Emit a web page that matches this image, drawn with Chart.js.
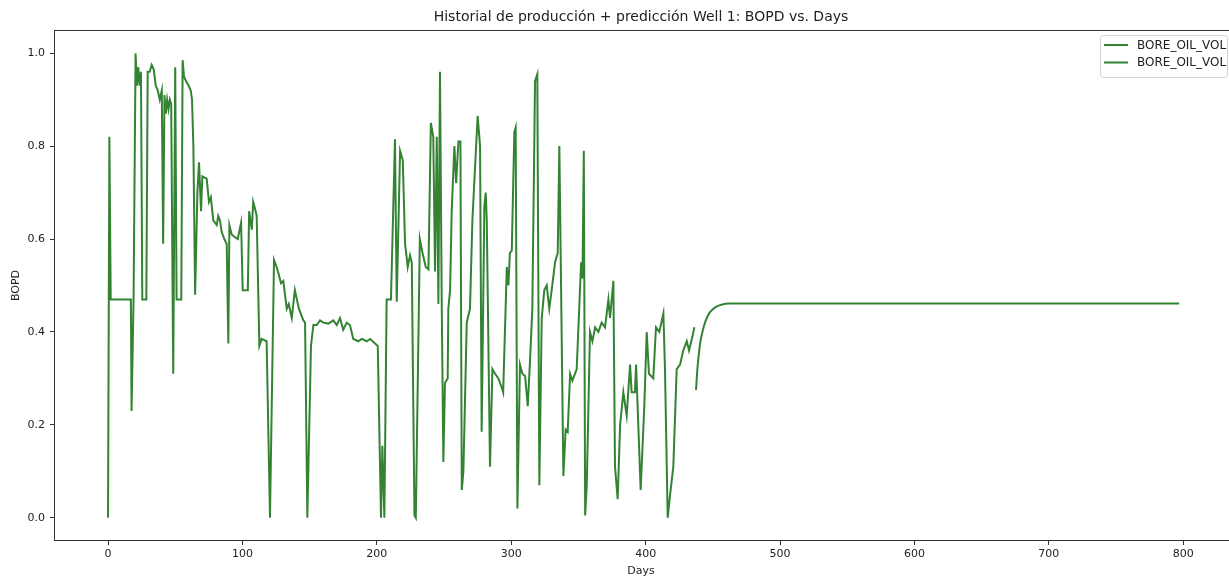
<!DOCTYPE html>
<html>
<head>
<meta charset="utf-8">
<script src="https://cdn.jsdelivr.net/npm/chart.js@4.4.1/dist/chart.umd.min.js"></script>
<style>
  html, body { margin: 0; padding: 0; background: #fff; }
  #chart_ctx { display: block; }
</style>
</head>
<body>
<canvas id="chart_ctx" width="1229" height="578"></canvas>
<script>
// history (days, BOPD)
const histDays = [0, 1, 2, 17, 17.5, 19, 20.5, 21.5, 22.5, 23.5, 24.5, 25.5, 28.5, 29.5, 31, 32.5, 34, 35.5, 37, 38.5,
  40, 41, 42, 43, 44, 45, 46, 47, 48.5, 50, 51, 54.5, 55.5, 56.5, 58, 60, 61.5, 62.5, 63.5, 64.8,
  66.5, 67.7, 69.2, 70.2, 73.4, 75.1, 76.5, 78.3, 80.9, 82, 83.3, 84.6, 86.5, 88.3, 89.5, 90.3, 92, 94, 96.5, 99,
  100.2, 102, 104, 105, 107, 108, 109.4, 110.6, 112.6, 114.3, 118, 120.5, 123.5, 126, 128.7, 130.4, 133, 134.5, 136.7, 139,
  142, 145.3, 146.6, 148.3, 151, 152.8, 155.3, 157.7, 160.2, 164, 167.6, 170.2, 172.6, 175, 177.6, 180, 182.5, 186.2, 188.8, 192.5,
  195, 198.7, 200.7, 203.1, 204.1, 205.6, 207.3, 210.5, 213.5, 214.8, 217.3, 219.3, 221, 223, 224.7, 226, 228, 229, 232, 234,
  236.4, 238.4, 240.2, 242, 243.3, 244.6, 245.8, 247, 248.3, 249.5, 250.7, 252.7, 253.2, 254.5, 255.7, 257.7, 259, 260.7, 262.2, 263.2,
  264.4, 266.9, 269.3, 271.1, 275, 276.8, 278, 280, 281, 281.8, 284.2, 286, 288, 290.4, 293, 294, 296.7, 297.9, 299, 300.4,
  302.3, 303.3, 304.6, 306.5, 308.3, 310.3, 312.3, 314, 315.7, 317.7, 319.4, 320.9, 322.7, 324.6, 326.4, 328.3, 330.1, 332.6, 334.6, 335.8,
  338.8, 340.5, 342, 343.8, 345.5, 348.7, 352, 353, 354, 355, 356.2, 358.6, 360.4, 362.4, 364.8, 367.3, 369.8, 372.3, 373.5, 376,
  377.2, 379.2, 381, 383.4, 385.9, 388.4, 389.6, 392, 392.9, 396.3, 399, 400.8, 402.5, 405.7, 407.7, 410.2, 413.2, 414.4, 416.4, 418.2,
  420.6, 423.1, 425.6, 428, 430.6, 432.3, 434.8, 436.3];
const histBopd = [0.0, 0.82, 0.47, 0.47, 0.23, 0.47, 1.0, 0.93, 0.97, 0.93, 0.96, 0.47, 0.47, 0.96, 0.96, 0.975, 0.965, 0.93, 0.92, 0.90,
  0.92, 0.59, 0.91, 0.87, 0.90, 0.88, 0.90, 0.89, 0.31, 0.97, 0.47, 0.47, 0.985, 0.95, 0.94, 0.93, 0.92, 0.90, 0.80, 0.48,
  0.70, 0.765, 0.66, 0.735, 0.73, 0.68, 0.69, 0.64, 0.63, 0.65, 0.64, 0.615, 0.60, 0.59, 0.375, 0.63, 0.61, 0.605, 0.60, 0.635,
  0.49, 0.49, 0.49, 0.66, 0.62, 0.68, 0.665, 0.65, 0.37, 0.385, 0.38, 0.0, 0.555, 0.535, 0.505, 0.51, 0.45, 0.46, 0.43, 0.49,
  0.45, 0.425, 0.42, 0.0, 0.37, 0.415, 0.415, 0.425, 0.42, 0.418, 0.425, 0.415, 0.43, 0.405, 0.42, 0.415, 0.385, 0.38, 0.385, 0.38,
  0.385, 0.375, 0.37, 0.0, 0.155, 0.0, 0.47, 0.47, 0.815, 0.465, 0.79, 0.77, 0.59, 0.54, 0.565, 0.55, 0.005, 0.0, 0.60, 0.57,
  0.54, 0.535, 0.85, 0.82, 0.53, 0.82, 0.46, 0.96, 0.46, 0.12, 0.29, 0.30, 0.45, 0.49, 0.66, 0.80, 0.72, 0.81, 0.81, 0.06,
  0.10, 0.42, 0.45, 0.64, 0.865, 0.80, 0.185, 0.67, 0.70, 0.64, 0.11, 0.32, 0.31, 0.30, 0.28, 0.27, 0.54, 0.50, 0.57, 0.575,
  0.83, 0.84, 0.02, 0.33, 0.31, 0.305, 0.24, 0.34, 0.45, 0.94, 0.955, 0.07, 0.43, 0.49, 0.50, 0.45, 0.49, 0.55, 0.57, 0.80,
  0.09, 0.19, 0.185, 0.31, 0.295, 0.32, 0.55, 0.515, 0.79, 0.005, 0.07, 0.40, 0.38, 0.41, 0.40, 0.42, 0.41, 0.47, 0.43, 0.51,
  0.11, 0.04, 0.20, 0.27, 0.22, 0.33, 0.27, 0.27, 0.33, 0.06, 0.24, 0.40, 0.31, 0.30, 0.41, 0.40, 0.44, 0.32, 0.0, 0.05,
  0.11, 0.32, 0.33, 0.36, 0.38, 0.36, 0.39, 0.41];

// prediction (days, BOPD)
const predDays = [437.5, 438.5, 439.5, 440.5, 442, 443.5, 445.5, 447.5, 450, 453, 457, 462, 470, 500, 600, 700, 797];
const predBopd = [0.275, 0.32, 0.35, 0.375, 0.397, 0.414, 0.43, 0.441, 0.449, 0.455, 0.459, 0.461, 0.4615, 0.4615, 0.4615, 0.4615, 0.4615];

const xTicks = [0, 100, 200, 300, 400, 500, 600, 700, 800];
const yTicks = [0.0, 0.2, 0.4, 0.6, 0.8, 1.0];

const lineColor = 'rgba(0,100,0,0.8)';
const fontFam = '"DejaVu Sans", sans-serif';

function toPoints(xs, ys) {
    return xs.map((d, i) => ({x: d, y: ys[i]}));
}

// matplotlib style frame + legend box (right spine sits just past the crop)
const framePlugin = {
    id: 'frame',
    afterDraw(chart) {
        const c = chart.ctx, a = chart.chartArea;
        c.save();
        c.strokeStyle = '#333';
        c.lineWidth = 1;
        const l = Math.round(a.left) + 0.5, t = Math.round(a.top) + 0.5, b = Math.round(a.bottom) - 0.5;
        c.strokeRect(l, t, chart.width + 10 - l, b - t);

        // legend
        const bx = 1100.5, by = 35.5, bw = 127, bh = 42;
        c.fillStyle = 'rgba(255,255,255,0.8)';
        c.strokeStyle = '#d0d0d0';
        c.beginPath();
        c.roundRect(bx, by, bw, bh, 3);
        c.fill();
        c.stroke();
        c.font = '12px ' + fontFam;
        c.textBaseline = 'middle';
        chart.data.datasets.forEach((ds, i) => {
            const yy = 45 + i * 17.5;
            c.strokeStyle = ds.borderColor;
            c.lineWidth = 2;
            c.beginPath();
            c.moveTo(1104, yy);
            c.lineTo(1128, yy);
            c.stroke();
            c.fillStyle = '#222';
            c.fillText(ds.label, 1137, yy + 0.5);
        });
        c.restore();
    }
};

var ctx = document.getElementById('chart_ctx');
var myChart = new Chart(ctx, {
    type: 'line',
    data: {
        datasets: [{
            label: 'BORE_OIL_VOL',
            data: toPoints(histDays, histBopd),
            borderColor: lineColor,
            borderWidth: 2,
            pointRadius: 0,
            tension: 0
        }, {
            label: 'BORE_OIL_VOL',
            data: toPoints(predDays, predBopd),
            borderColor: lineColor,
            borderWidth: 2,
            pointRadius: 0,
            cubicInterpolationMode: 'monotone'
        }]
    },
    options: {
        responsive: false,
        animation: false,
        events: [],
        layout: { padding: { left: 1, right: 1, top: 0, bottom: 0 } },
        plugins: {
            legend: { display: false },
            tooltip: { enabled: false },
            title: {
                display: true,
                fullSize: false,
                text: 'Historial de producción + predicción Well 1: BOPD vs. Days',
                color: '#222',
                font: { family: fontFam, size: 14, weight: 'normal', lineHeight: 1.2 },
                padding: { top: 9, bottom: 4.2 }
            }
        },
        scales: {
            x: {
                type: 'linear',
                min: -40.2,
                max: 833.3,
                afterFit(scale) { scale.height = 37; },
                afterBuildTicks(scale) { scale.ticks = xTicks.map(v => ({value: v})); },
                border: { display: false },
                grid: { display: true, drawOnChartArea: false, drawTicks: true, tickLength: 4, color: '#333' },
                ticks: { color: '#222', font: { family: fontFam, size: 11 }, padding: 3, maxRotation: 0,
                    callback: v => String(v) },
                title: { display: true, text: 'Days', color: '#222', font: { family: fontFam, size: 11 },
                    padding: { top: 0, bottom: 0 } }
            },
            y: {
                type: 'linear',
                min: -0.05,
                max: 1.05,
                afterFit(scale) { scale.width = 53; },
                afterBuildTicks(scale) { scale.ticks = yTicks.map(v => ({value: v})); },
                border: { display: false },
                grid: { display: true, drawOnChartArea: false, drawTicks: true, tickLength: 4, color: '#333' },
                ticks: { color: '#222', font: { family: fontFam, size: 11 }, padding: 5,
                    callback: v => v.toFixed(1) },
                title: { display: true, text: 'BOPD', color: '#222', font: { family: fontFam, size: 11 },
                    padding: { top: 9, bottom: 0 } }
            }
        }
    },
    plugins: [framePlugin]
});
</script>
</body>
</html>
